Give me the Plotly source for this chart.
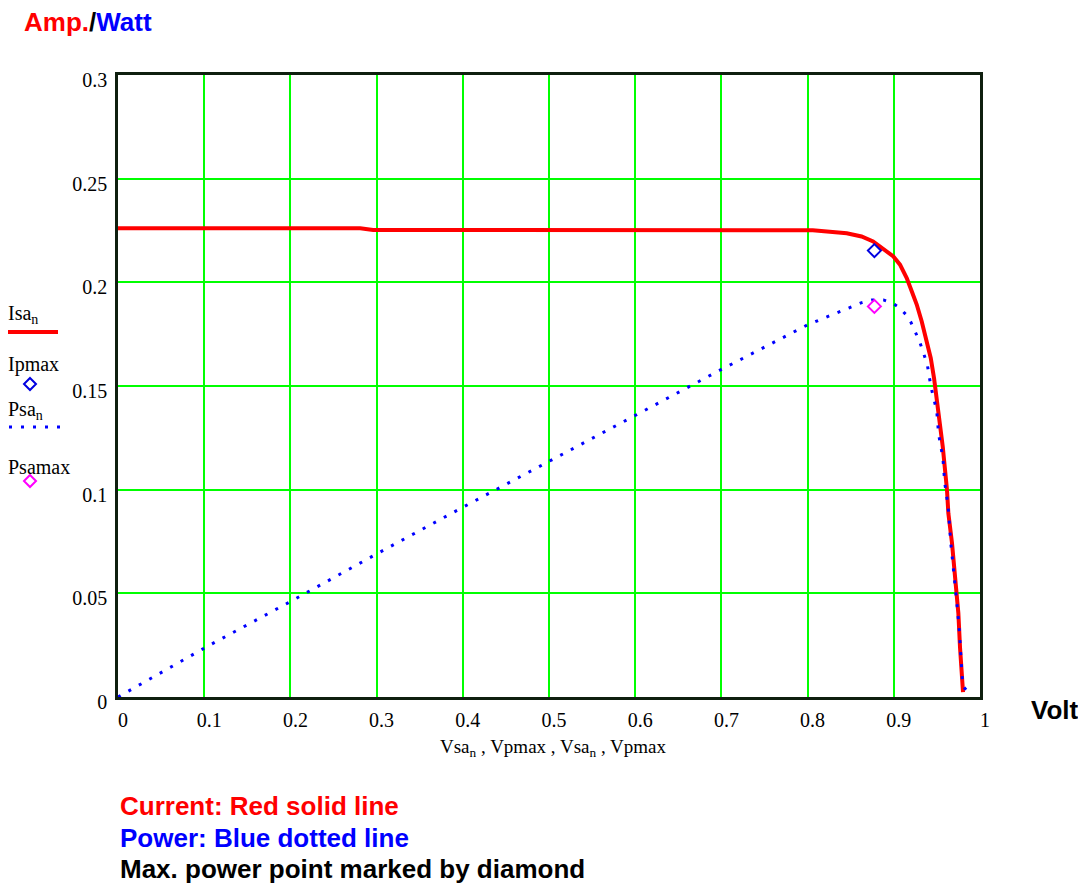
import plotly.graph_objects as go

# ---- data ----
v_current = [0.0, 0.281, 0.296, 0.806, 0.8454, 0.8626, 0.876, 0.8899, 0.8995, 0.9072,
             0.915, 0.9208, 0.9266, 0.9324, 0.9382, 0.9429, 0.9467, 0.9498, 0.9528, 0.9568,
             0.9617, 0.9633, 0.9675, 0.9698, 0.9733, 0.9749, 0.9768, 0.978, 0.9803]
i_current = [0.2261, 0.2261, 0.2253, 0.2251, 0.2237, 0.2221, 0.2197, 0.2157, 0.2125, 0.2085,
             0.2021, 0.1957, 0.1893, 0.1811, 0.1722, 0.1634, 0.1537, 0.1441, 0.1328, 0.1207,
             0.0999, 0.0886, 0.0743, 0.0629, 0.0502, 0.0404, 0.0241, 0.0146, 0.0024]

v_power = [0.0, 0.104, 0.2008, 0.3, 0.4, 0.5, 0.6, 0.7, 0.8, 0.8628, 0.8744, 0.8879, 0.8988,
           0.9065, 0.9138, 0.920, 0.9246, 0.9297, 0.9343, 0.9389, 0.9432, 0.9467, 0.9498,
           0.952, 0.957, 0.959, 0.963, 0.966, 0.969, 0.973, 0.9756, 0.978, 0.980, 0.987]
p_power = [0.0, 0.0245, 0.0462, 0.0690, 0.0915, 0.1135, 0.1358, 0.1580, 0.1795, 0.1902,
           0.1915, 0.1915, 0.1899, 0.1878, 0.1846, 0.1806, 0.1766, 0.1717, 0.1661, 0.1602,
           0.1494, 0.1438, 0.1380, 0.1267, 0.1152, 0.1036, 0.0920, 0.0747, 0.0631, 0.0458,
           0.0342, 0.0169, 0.0053, 0.0020]

v_pmax = [0.8775]
i_pmax = [0.2153]
p_samax = [0.1884]

x_ticks = [0, 0.1, 0.2, 0.3, 0.4, 0.5, 0.6, 0.7, 0.8, 0.9, 1]
x_tick_labels = ["0", "0.1", "0.2", "0.3", "0.4", "0.5", "0.6", "0.7", "0.8", "0.9", "1"]
y_ticks = [0, 0.05, 0.1, 0.15, 0.2, 0.25, 0.3]
y_tick_labels = ["0", "0.05", "0.1", "0.15", "0.2", "0.25", "0.3"]

# ---- layout geometry (page pixels; the page body has an 8px margin) ----
OFF = 8
W, H = 1086 - OFF, 883 - OFF
L, R, T, B = 118, 980, 75, 697
PW, PH = R - L, B - T


def xp(px):
    return (px - L) / PW


def yp(py):
    return (B - py) / PH


RED = "#ff0000"
BLUE = "#0000ff"
DBLUE = "#0000e0"
MAG = "#ff00ff"
SERIF = "Liberation Serif"
SANS = "Liberation Sans"

fig = go.Figure()
fig.add_trace(go.Scatter(x=v_current, y=i_current, mode="lines",
                         line=dict(color=RED, width=4), name="Isa"))
fig.add_trace(go.Scatter(x=v_pmax, y=i_pmax, mode="markers",
                         marker=dict(symbol="diamond-open", size=10, color=DBLUE,
                                     line=dict(width=2, color=DBLUE)), name="Ipmax"))
fig.add_trace(go.Scatter(x=v_power, y=p_power, mode="lines",
                         line=dict(color=BLUE, width=3, dash="3px,9px"), name="Psa"))
fig.add_trace(go.Scatter(x=v_pmax, y=p_samax, mode="markers",
                         marker=dict(symbol="diamond-open", size=10, color=MAG,
                                     line=dict(width=2, color=MAG)), name="Psamax"))

annotations = []
shapes = []


def ann(text, px, py, size, color="black", family=SERIF, xanchor="left", yanchor="middle"):
    annotations.append(dict(text=text, x=xp(px), y=yp(py), xref="paper", yref="paper",
                            showarrow=False, xanchor=xanchor, yanchor=yanchor,
                            font=dict(size=size, color=color, family=family)))


# title
ann("<b><span style='color:#ff0000'>Amp.</span><span style='color:#000000'>/</span>"
    "<span style='color:#0000ff'>Watt</span></b>", 22, 22, 26, family=SANS)

# left legend
ann("Isa<sub>n</sub>", 6, 314, 20)
shapes.append(dict(type="line", xref="paper", yref="paper", x0=xp(8), x1=xp(58),
                   y0=yp(332), y1=yp(332), line=dict(color=RED, width=4)))
ann("Ipmax", 6, 364, 20)
ann("Psa<sub>n</sub>", 6, 410, 20)
shapes.append(dict(type="line", xref="paper", yref="paper", x0=xp(9), x1=xp(60),
                   y0=yp(427), y1=yp(427), line=dict(color=BLUE, width=3, dash="3px,9px")))
ann("Psamax", 6, 467, 20)


def diamond(cx, cy, r, color):
    path = (f"M {xp(cx)},{yp(cy - r)} L {xp(cx + r)},{yp(cy)} "
            f"L {xp(cx)},{yp(cy + r)} L {xp(cx - r)},{yp(cy)} Z")
    shapes.append(dict(type="path", xref="paper", yref="paper", path=path,
                       line=dict(color=color, width=2)))


diamond(30, 384, 6, DBLUE)
diamond(30, 481, 6, MAG)

# axis title and unit
ann("Vsa<sub>n</sub> , Vpmax , Vsa<sub>n</sub> , Vpmax", 553, 748, 19, xanchor="center")
ann("<b>Volt</b>", 1029, 710, 26, family=SANS)

# bottom notes
ann("<b>Current: Red solid line</b>", 118, 806, 26, color=RED, family=SANS)
ann("<b>Power: Blue dotted line</b>", 118, 838, 26, color=BLUE, family=SANS)
ann("<b>Max. power point marked by diamond</b>", 118, 869, 26, color="black", family=SANS)

fig.update_layout(
    width=W, height=H,
    margin=dict(l=L - OFF, r=1086 - R, t=T - OFF, b=883 - B),
    paper_bgcolor="white", plot_bgcolor="white",
    showlegend=False,
    annotations=annotations,
    shapes=shapes,
    font=dict(family=SERIF, size=19, color="black"),
)
fig.update_xaxes(range=[0, 1], tickvals=x_ticks, ticktext=x_tick_labels,
                 showgrid=True, gridcolor="#00ff00", gridwidth=2, zeroline=False,
                 showline=True, mirror=True, linecolor="#0f1f0f", linewidth=2.5,
                 ticks="", ticklabelstandoff=3, ticklabelshift=5,
                 tickfont=dict(family=SERIF, size=20, color="black"))
fig.update_yaxes(range=[0, 0.3], tickvals=y_ticks, ticktext=y_tick_labels,
                 showgrid=True, gridcolor="#00ff00", gridwidth=2, zeroline=False,
                 showline=True, mirror=True, linecolor="#0f1f0f", linewidth=2.5,
                 ticks="", ticklabelstandoff=4, ticklabelshift=5,
                 tickfont=dict(family=SERIF, size=20, color="black"))

fig.write_html("out.html")
